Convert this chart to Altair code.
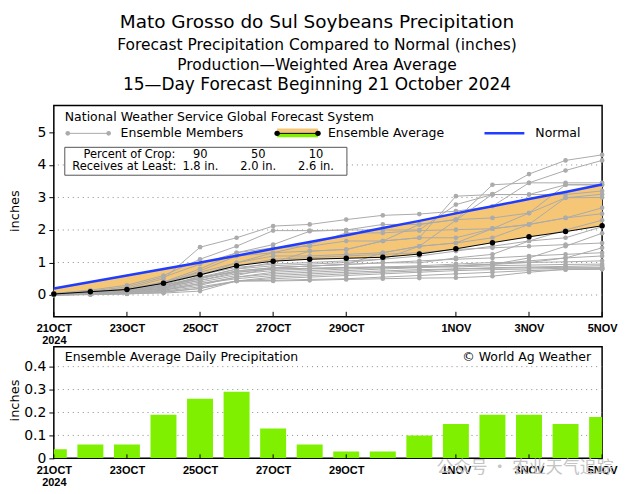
import altair as alt
import pandas as pd

# ---------------- data ----------------
days = list(range(16))
tick_days = [0, 2, 4, 6, 8, 11, 13, 15]
tick_labels = ["21OCT", "23OCT", "25OCT", "27OCT", "29OCT", "1NOV", "3NOV", "5NOV"]
first_label_year = "2024"

ens_avg = [0.03, 0.10, 0.17, 0.36, 0.62, 0.90, 1.04, 1.10, 1.13, 1.16, 1.26, 1.42, 1.61, 1.79, 1.95, 2.13]
normal = [0.20, 0.40, 0.60, 0.80, 1.00, 1.21, 1.42, 1.63, 1.84, 2.06, 2.28, 2.51, 2.73, 2.95, 3.17, 3.40]
daily_avg = [0.04, 0.06, 0.06, 0.19, 0.26, 0.29, 0.13, 0.06, 0.03, 0.03, 0.10, 0.15, 0.19, 0.19, 0.15, 0.18]

members = [
    [0.02, 0.05, 0.10, 0.30, 0.50, 0.80, 0.90, 0.95, 1.00, 1.10, 1.50, 2.30, 3.10, 3.72, 4.14, 4.31],
    [0.03, 0.10, 0.20, 0.50, 1.47, 1.76, 2.12, 2.17, 2.32, 2.45, 2.49, 2.58, 2.73, 3.45, 3.83, 4.14],
    [0.05, 0.15, 0.30, 0.60, 1.10, 1.50, 1.98, 1.98, 2.00, 2.17, 2.17, 2.32, 3.39, 3.45, 3.45, 3.45],
    [0.00, 0.05, 0.15, 0.40, 0.80, 1.30, 1.55, 1.96, 2.00, 2.00, 2.00, 2.78, 3.09, 3.09, 3.39, 3.39],
    [0.02, 0.08, 0.15, 0.35, 0.74, 1.20, 1.30, 1.55, 1.91, 1.91, 1.98, 2.01, 2.04, 2.52, 3.39, 3.39],
    [0.00, 0.03, 0.10, 0.20, 0.60, 0.99, 1.30, 1.35, 1.40, 1.66, 1.76, 3.04, 3.09, 3.09, 3.09, 3.20],
    [0.04, 0.12, 0.25, 0.55, 0.95, 1.30, 1.45, 1.50, 1.66, 1.66, 2.17, 2.32, 2.37, 2.52, 2.99, 3.10],
    [0.01, 0.05, 0.10, 0.30, 0.51, 0.74, 0.84, 0.89, 0.94, 1.30, 1.50, 1.60, 1.76, 2.17, 2.99, 3.00],
    [0.02, 0.06, 0.12, 0.28, 0.55, 0.80, 1.00, 1.35, 1.40, 1.66, 1.76, 1.76, 2.04, 2.17, 2.37, 2.68],
    [0.03, 0.10, 0.18, 0.40, 0.70, 0.99, 1.20, 1.20, 1.25, 1.30, 1.50, 1.60, 2.04, 2.17, 2.37, 2.50],
    [0.01, 0.04, 0.08, 0.20, 0.40, 0.60, 0.84, 0.89, 0.94, 0.99, 0.99, 1.14, 1.25, 1.66, 2.00, 2.30],
    [0.02, 0.07, 0.14, 0.32, 0.62, 0.85, 0.95, 1.00, 1.05, 1.10, 1.20, 1.35, 1.50, 1.66, 1.76, 2.10],
    [0.00, 0.02, 0.05, 0.15, 0.30, 0.55, 0.70, 0.75, 0.80, 0.84, 0.86, 0.90, 0.94, 1.14, 1.50, 1.90],
    [0.03, 0.09, 0.16, 0.38, 0.65, 0.90, 1.10, 1.15, 1.20, 1.25, 1.30, 1.40, 1.45, 1.50, 1.55, 1.60],
    [0.01, 0.04, 0.08, 0.22, 0.45, 0.70, 0.80, 0.82, 0.85, 0.86, 0.86, 0.90, 0.94, 1.00, 1.14, 1.45],
    [0.02, 0.06, 0.10, 0.25, 0.50, 0.74, 0.84, 0.89, 0.94, 0.99, 1.05, 1.10, 1.14, 1.20, 1.25, 1.30],
    [0.00, 0.03, 0.06, 0.15, 0.35, 0.55, 0.65, 0.70, 0.75, 0.80, 0.84, 0.90, 0.95, 1.05, 1.14, 1.20],
    [0.01, 0.05, 0.10, 0.25, 0.45, 0.65, 0.75, 0.80, 0.84, 0.86, 0.90, 0.95, 1.00, 1.00, 1.02, 1.05],
    [0.02, 0.06, 0.12, 0.30, 0.55, 0.70, 0.80, 0.82, 0.84, 0.84, 0.86, 0.86, 0.90, 0.92, 0.94, 0.95],
    [0.00, 0.02, 0.05, 0.12, 0.25, 0.43, 0.55, 0.60, 0.65, 0.70, 0.74, 0.80, 0.84, 0.86, 0.88, 0.90],
    [0.01, 0.03, 0.07, 0.18, 0.35, 0.50, 0.60, 0.65, 0.70, 0.74, 0.78, 0.80, 0.82, 0.84, 0.85, 0.85],
    [0.00, 0.02, 0.04, 0.10, 0.20, 0.43, 0.50, 0.55, 0.60, 0.65, 0.70, 0.75, 0.78, 0.80, 0.82, 0.82],
    [0.01, 0.02, 0.04, 0.06, 0.12, 0.43, 0.45, 0.48, 0.50, 0.55, 0.60, 0.65, 0.70, 0.75, 0.78, 0.80],
    [0.00, 0.01, 0.03, 0.08, 0.20, 0.43, 0.43, 0.45, 0.48, 0.50, 0.52, 0.53, 0.58, 0.70, 0.79, 0.79],
]

pct_crop = ["90", "50", "10"]
receives = ["1.8 in.", "2.0 in.", "2.6 in."]

top_grid = [0, 1, 2, 3, 4]
top_yticks = [0, 1, 2, 3, 4, 5]
bot_grid = [0.1, 0.2, 0.3, 0.4]
bot_yticks = [0, 0.1, 0.2, 0.3, 0.4]

titles = [
    "Mato Grosso do Sul Soybeans Precipitation",
    "Forecast Precipitation Compared to Normal (inches)",
    "Production\u2014Weighted Area Average",
    "15\u2014Day Forecast Beginning 21 October 2024",
]

# ---------------- tables ----------------
df_top = pd.DataFrame({"day": days, "avg": ens_avg, "normal": normal})
df_mem = pd.DataFrame(
    [{"member": i, "day": d, "value": v} for i, row in enumerate(members) for d, v in zip(days, row)]
)
df_bar = pd.DataFrame({"day": days, "val": daily_avg})
df_ticks = pd.DataFrame({"day": tick_days})

expr = "''"
for d, lab in reversed(list(zip(tick_days, tick_labels))):
    if d == tick_days[0]:
        lab_js = "['%s','%s']" % (lab, first_label_year)
    else:
        lab_js = "'%s'" % lab
    expr = "datum.value == %s ? %s : (%s)" % (d, lab_js, expr)

W, H1, H2 = 550, 212, 112
LEFT, TOP_PAD, RIGHT, BOTTOM_PAD = 53, 104, 32, 36
FONT = "DejaVu Sans"
GRAY = "#ababab"
ORANGE = "#f6c677"
GREEN = "#7ff000"
BLUE = "#1f3cff"

one = alt.InlineData(values=[{"a": 1}])

xscale = alt.Scale(domain=[0, 15], nice=False, zero=False)
xaxis = alt.Axis(values=tick_days, labelExpr=expr, labelFlush=False, labelOverlap=False,
                 tickSize=0, labelPadding=6, labelFont="Liberation Sans", labelFontSize=11,
                 labelFontWeight="bold", labelLineHeight=12, title=None, domain=False, grid=False)


def X(field):
    return alt.X(field, scale=xscale, axis=xaxis)


def txt(text, x, y, size=12, align="left", angle=0, color="#000", font=FONT, weight="normal"):
    kw = dict(align=align, baseline="middle", fontSize=size, font=font, color=color, fontWeight=weight)
    if angle:
        kw["angle"] = angle
    return alt.Chart(one).mark_text(**kw).encode(
        x=alt.value(x), y=alt.value(y), text=alt.value(text)
    )


def anchor(y):
    # invisible full-width rule that fixes the outer bounds of the picture
    return alt.Chart(one).mark_rule(opacity=0, strokeWidth=0.01).encode(
        x=alt.value(-LEFT), x2=alt.value(W + RIGHT), y=alt.value(y)
    )


# ---------------- top panel ----------------
yscale_top = alt.Scale(domain=[-0.67, 5.83], nice=False, zero=False)
yaxis_top = alt.Axis(values=top_yticks, format="d", labelFontSize=14, labelFont=FONT,
                     tickSize=5, labelPadding=3, title=None, grid=False, domain=False,
                     labelOverlap=False)


def YT(field):
    return alt.Y(field, scale=yscale_top, axis=yaxis_top)


grid_top = alt.Chart(pd.DataFrame({"g": top_grid})).mark_rule(
    color="#8a8a8a", strokeDash=[1, 4], strokeWidth=1
).encode(y=YT("g:Q"))

area = alt.Chart(df_top).mark_area(color=ORANGE, opacity=1).encode(
    x=X("day:Q"), y=YT("avg:Q"), y2="normal:Q"
)
mem_lines = alt.Chart(df_mem).mark_line(color=GRAY, strokeWidth=1).encode(
    x=X("day:Q"), y=YT("value:Q"), detail="member:N"
)
mem_pts = alt.Chart(df_mem).mark_circle(color=GRAY, size=22, opacity=1).encode(
    x=X("day:Q"), y=YT("value:Q")
)
norm_line = alt.Chart(df_top).mark_line(color=BLUE, strokeWidth=2.5).encode(
    x=X("day:Q"), y=YT("normal:Q")
)
avg_line = alt.Chart(df_top).mark_line(color="#000", strokeWidth=1).encode(
    x=X("day:Q"), y=YT("avg:Q")
)
avg_pts = alt.Chart(df_top).mark_circle(color="#000", size=30, opacity=1).encode(
    x=X("day:Q"), y=YT("avg:Q")
)
ticks_top = alt.Chart(df_ticks).mark_rule(color="#000", strokeWidth=1).encode(
    x=X("day:Q"), y=alt.value(H1), y2=alt.value(H1 - 5)
)

# legend inside top panel
leg = []
leg.append(txt("National Weather Service Global Forecast System", 11, 12, size=12.5))
leg.append(alt.Chart(one).mark_rule(color=GRAY, strokeWidth=1).encode(
    x=alt.value(14), x2=alt.value(55), y=alt.value(28)))
leg.append(alt.Chart(pd.DataFrame({"px": [14, 55]})).mark_circle(color=GRAY, size=22, opacity=1).encode(
    x=alt.X("px:Q", scale=None), y=alt.value(28)))
leg.append(txt("Ensemble Members", 67, 28, size=12.5))
leg.append(alt.Chart(one).mark_rect(color=ORANGE).encode(
    x=alt.value(224), x2=alt.value(265), y=alt.value(23), y2=alt.value(28)))
leg.append(alt.Chart(one).mark_rect(color=GREEN).encode(
    x=alt.value(224), x2=alt.value(265), y=alt.value(28), y2=alt.value(32)))
leg.append(alt.Chart(one).mark_rule(color="#000", strokeWidth=1).encode(
    x=alt.value(224), x2=alt.value(265), y=alt.value(28)))
leg.append(alt.Chart(pd.DataFrame({"px": [224, 265]})).mark_circle(color="#000", size=30, opacity=1).encode(
    x=alt.X("px:Q", scale=None), y=alt.value(28)))
leg.append(txt("Ensemble Average", 275, 28, size=12.5))
leg.append(alt.Chart(one).mark_rule(color=BLUE, strokeWidth=2.5).encode(
    x=alt.value(432), x2=alt.value(472), y=alt.value(28)))
leg.append(txt("Normal", 483, 28, size=12.5))
# percentile box
leg.append(alt.Chart(one).mark_rect(fill="#fff", stroke="#555", strokeWidth=1).encode(
    x=alt.value(11), x2=alt.value(294), y=alt.value(42), y2=alt.value(70)))
leg.append(txt("Percent of Crop:", 122, 50, size=11.5, align="right"))
leg.append(txt("Receives at Least:", 123, 62, size=11.5, align="right"))
for cx, p, r in zip([147, 205, 263], pct_crop, receives):
    leg.append(txt(p, cx, 50, size=11.5, align="center"))
    leg.append(txt(r, cx, 62, size=11.5, align="center"))

# titles (above the plot area)
title_layers = [
    txt(titles[0], 264, -84, size=18.5, align="center"),
    txt(titles[1], 264, -61, size=15.5, align="center"),
    txt(titles[2], 264, -41, size=15.5, align="center"),
    txt(titles[3], 264, -20, size=17, align="center"),
]
ylab_top = txt("inches", -39, 106, size=13, align="center", angle=270)

top = alt.layer(
    anchor(-TOP_PAD), grid_top, area, mem_lines, mem_pts, norm_line, avg_line, avg_pts, ticks_top,
    *leg, *title_layers, ylab_top
).properties(width=W, height=H1)

# ---------------- bottom panel ----------------
yscale_bot = alt.Scale(domain=[0, 0.487], nice=False, zero=True)
yaxis_bot = alt.Axis(values=bot_yticks, format=".1~f", labelFontSize=14, labelFont=FONT,
                     tickSize=5, labelPadding=3, title=None, grid=False, domain=False,
                     labelOverlap=False)


def YB(field):
    return alt.Y(field, scale=yscale_bot, axis=yaxis_bot)


grid_bot = alt.Chart(pd.DataFrame({"g": bot_grid})).mark_rule(
    color="#8a8a8a", strokeDash=[1, 4], strokeWidth=1
).encode(y=YB("g:Q"))

bars = alt.Chart(df_bar).transform_calculate(
    x1="datum.day - 0.355", x2="datum.day + 0.355"
).mark_rect(color=GREEN, clip=True).encode(
    x=X("x1:Q"), x2="x2:Q",
    y=YB("val:Q"), y2=alt.datum(0)
)
ticks_bot = alt.Chart(df_ticks).mark_rule(color="#000", strokeWidth=1).encode(
    x=X("day:Q"), y=alt.value(H2), y2=alt.value(H2 - 4)
)
bot_texts = [
    txt("Ensemble Average Daily Precipitation", 11, 10, size=12.5),
    txt("\u00a9 World Ag Weather", 539, 10, size=12.5, align="right"),
    txt("inches", -39, 54, size=13, align="center", angle=270),
    txt("\u516c\u4f17\u53f7 \u00b7 \u519c\u4e1a\u5929\u6c14\u8ffd\u8e2a", 384, 122, size=17,
        color="#c4c4c4", font="Noto Sans CJK SC"),
]

bottom = alt.layer(grid_bot, bars, ticks_bot, *bot_texts, anchor(H2 + BOTTOM_PAD)).properties(
    width=W, height=H2
)

chart = alt.vconcat(top, bottom, spacing=30, bounds="flush").properties(
    padding=0,
).configure_view(
    stroke="#000", strokeWidth=1.5
).configure_axis(
    labelColor="#000", tickColor="#000"
)

chart.save("out.html", embed_options={"renderer": "svg", "actions": False})
